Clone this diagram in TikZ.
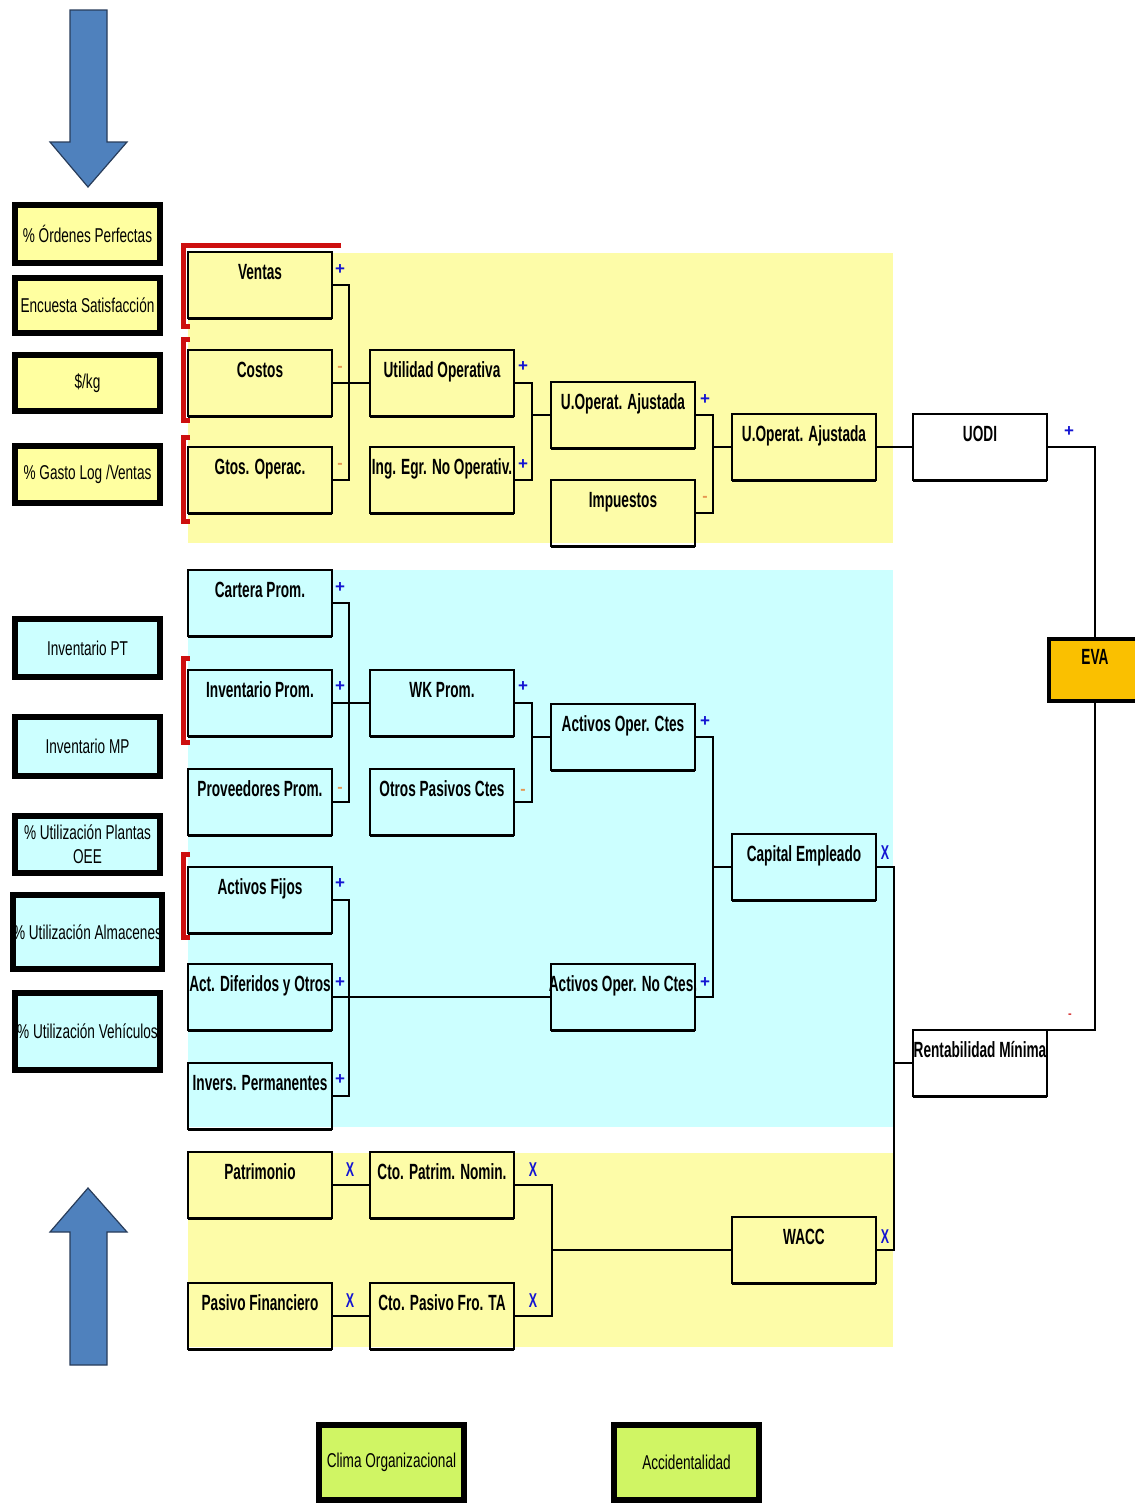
\documentclass[tikz,border=0pt]{standalone}
\usepackage{fontspec}
\setmainfont{Liberation Sans}
\newfontfamily\narrowfont[FakeStretch=0.62]{Liberation Sans}
\newfontfamily\kpifont[FakeStretch=0.68]{Liberation Sans}
\newcommand\zw[1]{\makebox[0pt]{#1}}

\definecolor{panelyellow}{RGB}{253,252,168}
\definecolor{kpiyellow}{RGB}{255,255,160}
\definecolor{panelcyan}{RGB}{204,255,255}
\definecolor{kpigreen}{RGB}{208,245,100}
\definecolor{evaorange}{RGB}{250,192,0}
\definecolor{arrowblue}{RGB}{79,129,189}
\definecolor{arrowedge}{RGB}{40,60,90}
\definecolor{bracketred}{RGB}{205,15,15}
\definecolor{plusblue}{RGB}{20,20,210}
\definecolor{minusorange}{RGB}{230,150,80}

\tikzset{
  databox/.style={rectangle, draw=black, line width=1.5pt, anchor=north west,
    minimum width=144pt, minimum height=66pt, inner xsep=0pt, inner ysep=0pt,
    outer sep=0pt, text height=27pt, text depth=39pt,
    font=\narrowfont\bfseries\fontsize{22}{24}\selectfont},
  kpibox/.style={rectangle, draw=black, line width=6pt, outer sep=0pt,
    minimum width=145pt, align=center, inner sep=0pt,
    font=\kpifont\fontsize{20}{22}\selectfont},
  kpiyel/.style={kpibox, fill=kpiyellow},
  kpicyan/.style={kpibox, fill=panelcyan},
  kpigrn/.style={kpibox, fill=kpigreen, minimum height=75pt},
  link/.style={draw=black, line width=1.7pt},
  bracket/.style={draw=bracketred, line width=5pt},
  plus/.style={inner sep=0pt, text=plusblue, font=\bfseries\fontsize{17}{17}\selectfont},
  minus/.style={inner sep=0pt, text=minusorange, font=\bfseries\fontsize{16}{16}\selectfont},
  times/.style={inner sep=0pt, text=plusblue, font=\narrowfont\bfseries\fontsize{20}{20}\selectfont},
  bigarrow/.style={fill=arrowblue, draw=arrowedge, line width=1.2pt, line join=miter},
}

\begin{document}
\begin{tikzpicture}[x=1pt, y=-1pt]
\path[use as bounding box] (0,0) rectangle (1135,1505);

% background panels
\fill[panelyellow] (188,253) rectangle (893,543);
\fill[panelcyan]   (188,570) rectangle (893,1127);
\fill[panelyellow] (188,1153) rectangle (893,1347);

% big arrows
\draw[bigarrow] (70,10) -- (107,10) -- (107,142) -- (127,142) -- (88,187)
  -- (50,142) -- (70,142) -- cycle;
\draw[bigarrow] (88,1188) -- (127,1232) -- (107,1232) -- (107,1365)
  -- (70,1365) -- (70,1232) -- (50,1232) -- cycle;

% indicator boxes
\node[kpiyel, minimum height=58pt] (k1) at (87.5,234) {\% Órdenes Perfectas};
\node[kpiyel, minimum height=55pt] (k2) at (87.5,305.5) {Encuesta Satisfacción};
\node[kpiyel, minimum height=56pt] (k3) at (87.5,383) {\$/kg};
\node[kpiyel, minimum height=57pt] (k4) at (87.5,474.5) {\% Gasto Log /Ventas};
\node[kpicyan, minimum height=58pt] (k5) at (87.5,648) {Inventario PT};
\node[kpicyan, minimum height=59pt] (k6) at (87.5,746.5) {Inventario MP};
\node[kpicyan, minimum height=57pt, font=\kpifont\fontsize{20}{24}\selectfont]
  (k7) at (87.5,844.5) {\% Utilización Plantas\\OEE};
\node[kpicyan, minimum height=74pt] (k8) at (87.5,932) {\% Utilización Almacenes};
\node[kpicyan, minimum height=77pt] (k9) at (87.5,1031.5) {\% Utilización Vehículos};
\node[kpigrn] (k10) at (391.5,1462.5) {Clima Organizacional};
\node[kpigrn] (k11) at (686.5,1462.5) {Accidentalidad};

% red brackets
\draw[bracket] (341,245) -- (183,245) -- (183,326) -- (190,326);
\draw[bracket] (190,339) -- (183,339) -- (183,420) -- (190,420);
\draw[bracket] (190,437) -- (183,437) -- (183,521) -- (190,521);
\draw[bracket] (190,658) -- (183,658) -- (183,742) -- (190,742);
\draw[bracket] (190,854) -- (183,854) -- (183,937) -- (190,937);

% first column
\node[databox] (ventas)  at (188,252)  {Ventas};
\node[databox] (costos)  at (188,350)  {Costos};
\node[databox] (gtos)    at (188,447)  {Gtos. Operac.};
\node[databox] (cartera) at (188,570)  {Cartera Prom.};
\node[databox] (invprom) at (188,670)  {Inventario Prom.};
\node[databox] (prov)    at (188,769)  {\zw{Proveedores Prom.}};
\node[databox] (actfij)  at (188,867)  {Activos Fijos};
\node[databox] (actdif)  at (188,964)  {\zw{Act. Diferidos y Otros}};
\node[databox] (invers)  at (188,1063) {\zw{Invers. Permanentes}};
\node[databox] (patrim)  at (188,1152) {Patrimonio};
\node[databox] (pasfin)  at (188,1283) {\zw{Pasivo Financiero}};

% second column
\node[databox] (utop)   at (370,350)  {\zw{Utilidad Operativa}};
\node[databox] (ingegr) at (370,447)  {\zw{Ing. Egr. No Operativ.}};
\node[databox] (wk)     at (370,670)  {WK Prom.};
\node[databox] (otros)  at (370,769)  {\zw{Otros Pasivos Ctes}};
\node[databox] (ctopat) at (370,1152) {\zw{Cto. Patrim. Nomin.}};
\node[databox] (ctopas) at (370,1283) {\zw{Cto. Pasivo Fro. TA}};

% third column
\node[databox] (uoaj)  at (551,382) {\zw{U.Operat. Ajustada}};
\node[databox] (impu)  at (551,480) {Impuestos};
\node[databox] (aoc)   at (551,704) {\zw{Activos Oper. Ctes}};
\node[databox] (aonc)  at (551,964) {\zw{Activos Oper. No Ctes.}};

% fourth column
\node[databox] (uoajb)  at (732,414)  {\zw{U.Operat. Ajustada}};
\node[databox] (capemp) at (732,834)  {\zw{Capital Empleado}};
\node[databox] (wacc)   at (732,1217) {WACC};

% fifth column
\node[databox, fill=white, minimum width=134pt] (uodi)    at (913,414)  {UODI};
\node[databox, fill=white, minimum width=134pt] (rentmin) at (913,1030) {\zw{Rentabilidad Mínima}};

% result
\node[databox, fill=evaorange, line width=4pt, minimum width=92pt,
  minimum height=62pt, text height=25pt, text depth=37pt] (eva) at (1049,639) {EVA};

% heavy lower edges of the data boxes
\foreach \n in {ventas,costos,gtos,cartera,invprom,prov,actfij,actdif,invers,
  patrim,pasfin,utop,ingegr,wk,otros,ctopat,ctopas,uoaj,impu,aoc,aonc,
  uoajb,capemp,wacc,uodi,rentmin}
  \draw[line width=3pt] (\n.south west) -- (\n.south east);

% operating profit tree
\draw[link] (ventas.east) -- ++(17,0) |- (gtos.east);
\draw[link] (costos.east) -- (utop.west);
\draw[link] (utop.east) -- ++(18,0) |- (ingegr.east);
\draw[link] (uoaj.west) -- ++(-20,0);
\draw[link] (uoaj.east) -- ++(18,0) |- (impu.east);
\draw[link] (uoajb.west) -- ++(-20,0);
\draw[link] (uoajb.east) -- (uodi.west);
\draw[link] (uodi.east) -| (eva.north);
\draw[link] (eva.south) |- (rentmin.north west);

% capital employed tree
\draw[link] (cartera.east) -- ++(17,0) |- (prov.east);
\draw[link] (invprom.east) -- (wk.west);
\draw[link] (wk.east) -- ++(18,0) |- (otros.east);
\draw[link] (aoc.west) -- ++(-20,0);
\draw[link] (aoc.east) -- ++(18,0) |- (aonc.east);
\draw[link] (capemp.west) -- ++(-20,0);
\draw[link] (actfij.east) -- ++(17,0) |- (invers.east);
\draw[link] (actdif.east) -- (aonc.west);
\draw[link] (capemp.east) -- ++(18,0) |- (wacc.east);
\draw[link] (rentmin.west) -- ++(-20,0);

% cost of capital tree
\draw[link] (patrim.east) -- (ctopat.west);
\draw[link] (pasfin.east) -- (ctopas.west);
\draw[link] (ctopat.east) -- ++(38,0) |- (ctopas.east);
\draw[link] (wacc.west) -- ++(-181,0);

% operators
\node[plus]  (o1)  at ([xshift=8pt,yshift=-18pt]ventas.north east) {+};
\node[minus] (o2)  at ([xshift=8pt,yshift=-19pt]costos.north east) {-};
\node[minus] (o3)  at ([xshift=8pt,yshift=-19pt]gtos.north east) {-};
\node[plus]  (o4)  at ([xshift=9pt,yshift=-17pt]utop.north east) {+};
\node[plus]  (o5)  at ([xshift=9pt,yshift=-18pt]ingegr.north east) {+};
\node[plus]  (o6)  at ([xshift=10pt,yshift=-18pt]uoaj.north east) {+};
\node[minus] (o7)  at ([xshift=10pt,yshift=-19pt]impu.north east) {-};
\node[plus]  (o8)  at ([xshift=22pt,yshift=-18pt]uodi.north east) {+};
\node[plus]  (o9)  at ([xshift=8pt,yshift=-18pt]cartera.north east) {+};
\node[plus]  (o10) at ([xshift=8pt,yshift=-17pt]invprom.north east) {+};
\node[minus] (o11) at ([xshift=8pt,yshift=-21pt]prov.north east) {-};
\node[plus]  (o12) at ([xshift=9pt,yshift=-17pt]wk.north east) {+};
\node[minus] (o13) at ([xshift=9pt,yshift=-23pt]otros.north east) {-};
\node[plus]  (o14) at ([xshift=10pt,yshift=-18pt]aoc.north east) {+};
\node[times] (o15) at ([xshift=9pt,yshift=-19pt]capemp.north east) {X};
\node[plus]  (o16) at ([xshift=8pt,yshift=-17pt]actfij.north east) {+};
\node[plus]  (o17) at ([xshift=8pt,yshift=-19pt]actdif.north east) {+};
\node[plus]  (o18) at ([xshift=8pt,yshift=-17pt]invers.north east) {+};
\node[plus]  (o19) at ([xshift=10pt,yshift=-19pt]aonc.north east) {+};
\node[times] (o20) at ([xshift=18pt,yshift=-18pt]patrim.north east) {X};
\node[times] (o21) at ([xshift=19pt,yshift=-18pt]ctopat.north east) {X};
\node[times] (o22) at ([xshift=18pt,yshift=-18pt]pasfin.north east) {X};
\node[times] (o23) at ([xshift=19pt,yshift=-18pt]ctopas.north east) {X};
\node[times] (o24) at ([xshift=9pt,yshift=-20pt]wacc.north east) {X};
\node[minus, text=bracketred, font=\bfseries\fontsize{11}{11}\selectfont]
  (o25) at ([xshift=23pt,yshift=14pt]rentmin.north east) {-};
\end{tikzpicture}
\end{document}
